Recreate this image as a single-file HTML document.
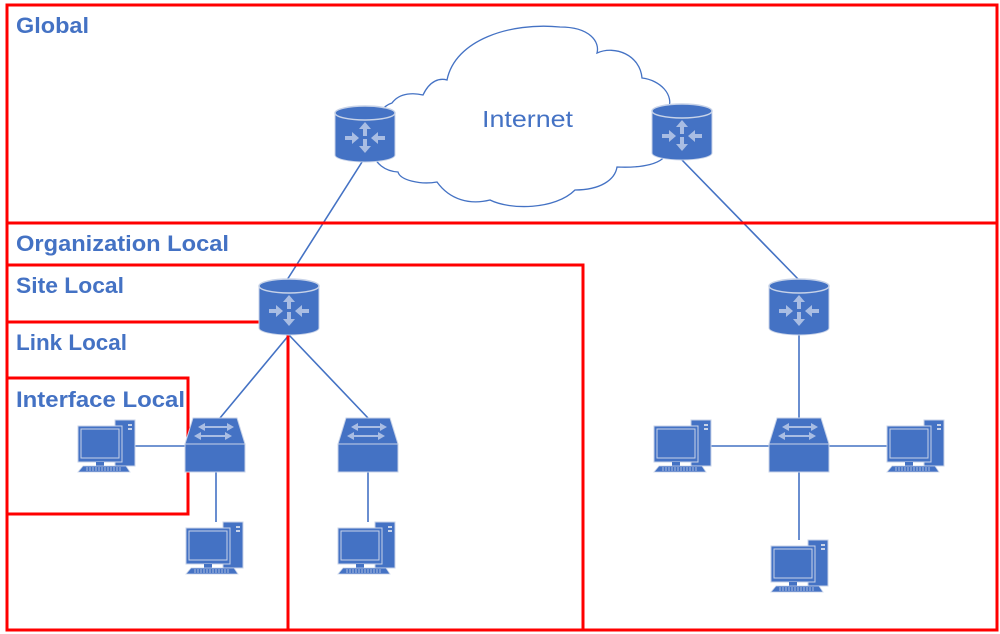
<!DOCTYPE html>
<html><head><meta charset="utf-8"><style>
html,body{margin:0;padding:0;background:#fff;}
svg{display:block;}
</style></head><body>
<svg width="1000" height="634" viewBox="0 0 1000 634" xmlns="http://www.w3.org/2000/svg">
<defs>
<g id="router">
 <path d="M0,8 L0,50 A30,7 0 0 0 60,50 L60,8 Z" fill="#4472C4" stroke="#c8d3e8" stroke-width="1"/>
 <ellipse cx="30" cy="8" rx="30" ry="7" fill="#4472C4" stroke="#c8d3e8" stroke-width="1.5"/>
 <g fill="#a9bde3">
  <path d="M30,17 L24,24 L28,24 L28,31 L32,31 L32,24 L36,24 Z"/>
  <path d="M30,48 L24,41 L28,41 L28,34 L32,34 L32,41 L36,41 Z"/>
  <path d="M24,33 L17,27 L17,31 L10,31 L10,35 L17,35 L17,39 Z"/>
  <path d="M36,33 L43,27 L43,31 L50,31 L50,35 L43,35 L43,39 Z"/>
 </g>
</g>
<g id="switch">
 <path d="M8,0 L52,0 L60,26 L0,26 Z" fill="#4472C4" stroke="#c8d3e8"/>
 <rect x="0" y="26" width="60" height="28" fill="#4472C4" stroke="#c8d3e8"/>
 <g fill="#a9bde3">
  <path d="M20,5 L13,9 L20,13 L20,10 L34,10 L34,8 L20,8 Z"/>
  <path d="M42,5 L49,9 L42,13 L42,10 L28,10 L28,8 L42,8 Z"/>
  <path d="M16,14 L9,18 L16,22 L16,19 L30,19 L30,17 L16,17 Z"/>
  <path d="M40,14 L47,18 L40,22 L40,19 L26,19 L26,17 L40,17 Z"/>
 </g>
</g>
<g id="pc">
 <rect x="37" y="0" width="20" height="46" fill="#4472C4" stroke="#c8d3e8"/>
 <rect x="50" y="4" width="4" height="2" fill="#c8d3e8"/>
 <rect x="50" y="8" width="4" height="2" fill="#c8d3e8"/>
 <rect x="0" y="6" width="44" height="36" fill="#4472C4" stroke="#c8d3e8"/>
 <rect x="3" y="9" width="38" height="29" fill="#4472C4" stroke="#c8d3e8"/>
 <rect x="18" y="42" width="8" height="4" fill="#4472C4"/>
 <path d="M5,46 L48,46 L52,52 L0,52 Z" fill="#4472C4" stroke="#c8d3e8" stroke-width="0.8"/>
 <path d="M8,48 L44,48 M8,50 L44,50" stroke="#c8d3e8" stroke-width="0.8" stroke-dasharray="2,1"/>
</g>
</defs>

<path d="M392,103 C400,92 415,93 423,95 C430,80 440,78 447,80 C455,40 510,22 560,27 C590,27 600,42 597,53 C615,45 640,55 642,78 C660,80 675,95 668,110 L668,150 C665,165 640,168 617,167 C615,180 600,190 575,190 C555,210 510,210 490,200 C470,205 450,200 437,182 C420,185 400,180 398,172 C370,170 365,140 380,128 C375,118 382,106 392,103 Z" fill="#fff" stroke="#4472C4" stroke-width="1.3"/>
<text x="482" y="127" textLength="91" lengthAdjust="spacingAndGlyphs" font-family="Liberation Sans, sans-serif" font-size="23" fill="#4472C4">Internet</text>

<g stroke="#4472C4" stroke-width="1.6">
 <line x1="362" y1="162" x2="287" y2="280"/>
 <line x1="682" y1="160" x2="799" y2="280"/>
 <line x1="289" y1="335" x2="220" y2="418"/>
 <line x1="289" y1="335" x2="368" y2="418"/>
 <line x1="799" y1="335" x2="799" y2="418"/>
 <line x1="135" y1="446" x2="185" y2="446"/>
 <line x1="216" y1="472" x2="216" y2="522"/>
 <line x1="368" y1="472" x2="368" y2="522"/>
 <line x1="711" y1="446" x2="769" y2="446"/>
 <line x1="829" y1="446" x2="887" y2="446"/>
 <line x1="799" y1="472" x2="799" y2="540"/>
</g>

<g fill="none" stroke="#ff0000" stroke-width="3">
 <rect x="7" y="5" width="990" height="218"/>
 <rect x="7" y="223" width="990" height="407"/>
 <rect x="7" y="265" width="576" height="365"/>
 <polyline points="7,322 288,322 288,630"/>
 <rect x="7" y="378" width="181" height="136"/>
</g>

<use href="#router" x="335" y="105"/>
<use href="#router" x="652" y="103"/>
<use href="#router" x="259" y="278"/>
<use href="#router" x="769" y="278"/>
<use href="#switch" x="185" y="418"/>
<use href="#switch" x="338" y="418"/>
<use href="#switch" x="769" y="418"/>
<use href="#pc" x="78" y="420"/>
<use href="#pc" x="186" y="522"/>
<use href="#pc" x="338" y="522"/>
<use href="#pc" x="654" y="420"/>
<use href="#pc" x="887" y="420"/>
<use href="#pc" x="771" y="540"/>

<g font-family="Liberation Sans, sans-serif" font-size="22" font-weight="bold" fill="#4472C4" lengthAdjust="spacingAndGlyphs">
 <text x="16" y="33" textLength="73" lengthAdjust="spacingAndGlyphs">Global</text>
 <text x="16" y="251" textLength="213" lengthAdjust="spacingAndGlyphs">Organization Local</text>
 <text x="16" y="293" textLength="108" lengthAdjust="spacingAndGlyphs">Site Local</text>
 <text x="16" y="350" textLength="111" lengthAdjust="spacingAndGlyphs">Link Local</text>
 <text x="16" y="407" textLength="169" lengthAdjust="spacingAndGlyphs">Interface Local</text>
</g>
</svg>
</body></html>
